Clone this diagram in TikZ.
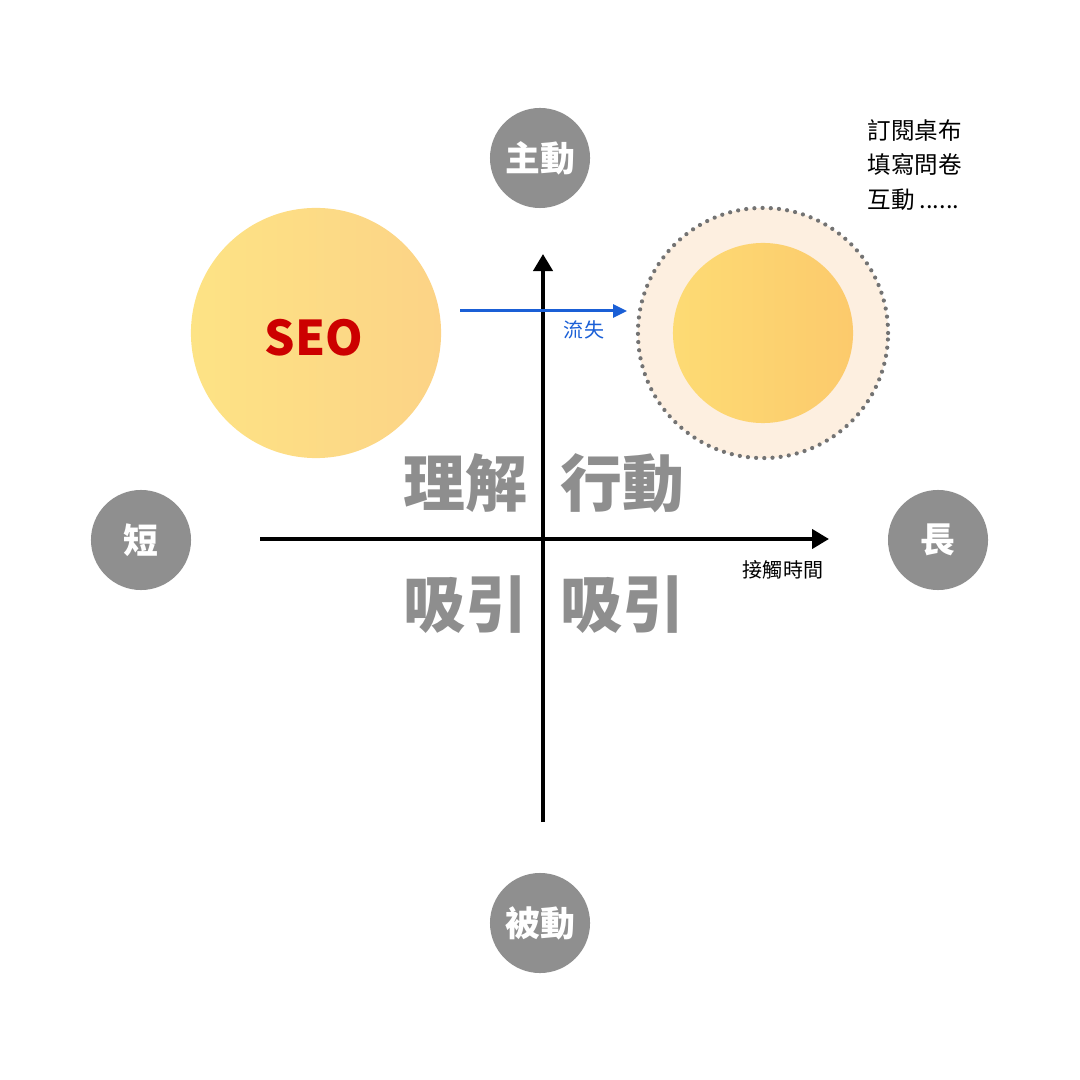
\documentclass[tikz,border=0pt]{standalone}
\usepackage{fontspec}
\setmainfont{Noto Sans CJK TC}
\usetikzlibrary{arrows.meta}

\definecolor{gris}{HTML}{8F8F8F}
\definecolor{grisTexte}{HTML}{8E8E8E}
\definecolor{bleu}{HTML}{1A5FD6}
\definecolor{rouge}{HTML}{CC0000}
\definecolor{creme}{HTML}{FDEFE0}
\definecolor{jauneA}{HTML}{FDE385}
\definecolor{jauneB}{HTML}{FCD386}
\definecolor{orA}{HTML}{FDDB74}
\definecolor{orB}{HTML}{FCCA6C}

\begin{document}
\begin{tikzpicture}[x=0.01cm,y=-0.01cm,
  rond/.style={circle, fill=gris, minimum size=1cm, inner sep=0pt, text=white, font=\bfseries\fontsize{9.9}{11}\selectfont},%cercles gris des extremites
  quadrant/.style={text=grisTexte, font=\bfseries\fontsize{17.6}{20}\selectfont},%textes des quadrants
  petit/.style={font=\fontsize{5.7}{7}\selectfont},%petits textes
  axe/.style={line width=1.15pt, -{Triangle[length=0.17cm,width=0.19cm]}}]
\useasboundingbox (0,0) rectangle (1080,1080);

% les cercles
\node (seo) at (316,333) [circle, minimum size=2.5cm, left color=jauneA, right color=jauneB] {};
\node (seoTexte) at (314,338) [text=rouge, font=\bfseries\fontsize{13.6}{16}\selectfont] {SEO};
\node (halo) at (763,333) [circle, minimum size=2.5cm, fill=creme, draw=black!55, line width=1.2pt, dash pattern=on 0pt off 0.082cm, line cap=round] {};
\node (coeur) at (763,333) [circle, minimum size=1.8cm, left color=orA, right color=orB] {};

% les axes
\coordinate (gauche) at (260,539);
\coordinate (droite) at (829,539);
\coordinate (bas) at (543,822);
\coordinate (haut) at (543,254);
\draw[axe] (gauche) -- (droite);
\draw[axe] (bas) -- (haut);

% fleche bleue
\coordinate (depart) at (460,311);
\coordinate (arrivee) at (627,311);
\draw[bleu, line width=0.85pt, -{Triangle[length=0.14cm,width=0.13cm]}] (depart) -- (arrivee);
\node (perte) at (584,330) [petit, text=bleu] {流失};

% cercles gris
\node (actif) at (540,158) [rond] {主動};
\node (passif) at (540,923) [rond] {被動};
\node (court) at (141,540) [rond] {短};
\node (long) at (938,540) [rond] {長};

% quadrants
\node (q1) at (465,483) [quadrant] {理解};
\node (q2) at (622,483) [quadrant] {行動};
\node (q3) at (465,605) [quadrant] {吸引};
\node (q4) at (622,605) [quadrant] {吸引};

\node (temps) at (783,570) [petit] {接觸時間};
\node (liste) at (855,165) [anchor=west, align=left, font=\fontsize{6.7}{9.9}\selectfont] {訂閱桌布\\填寫問卷\\互動 ......};

\end{tikzpicture}
\end{document}
